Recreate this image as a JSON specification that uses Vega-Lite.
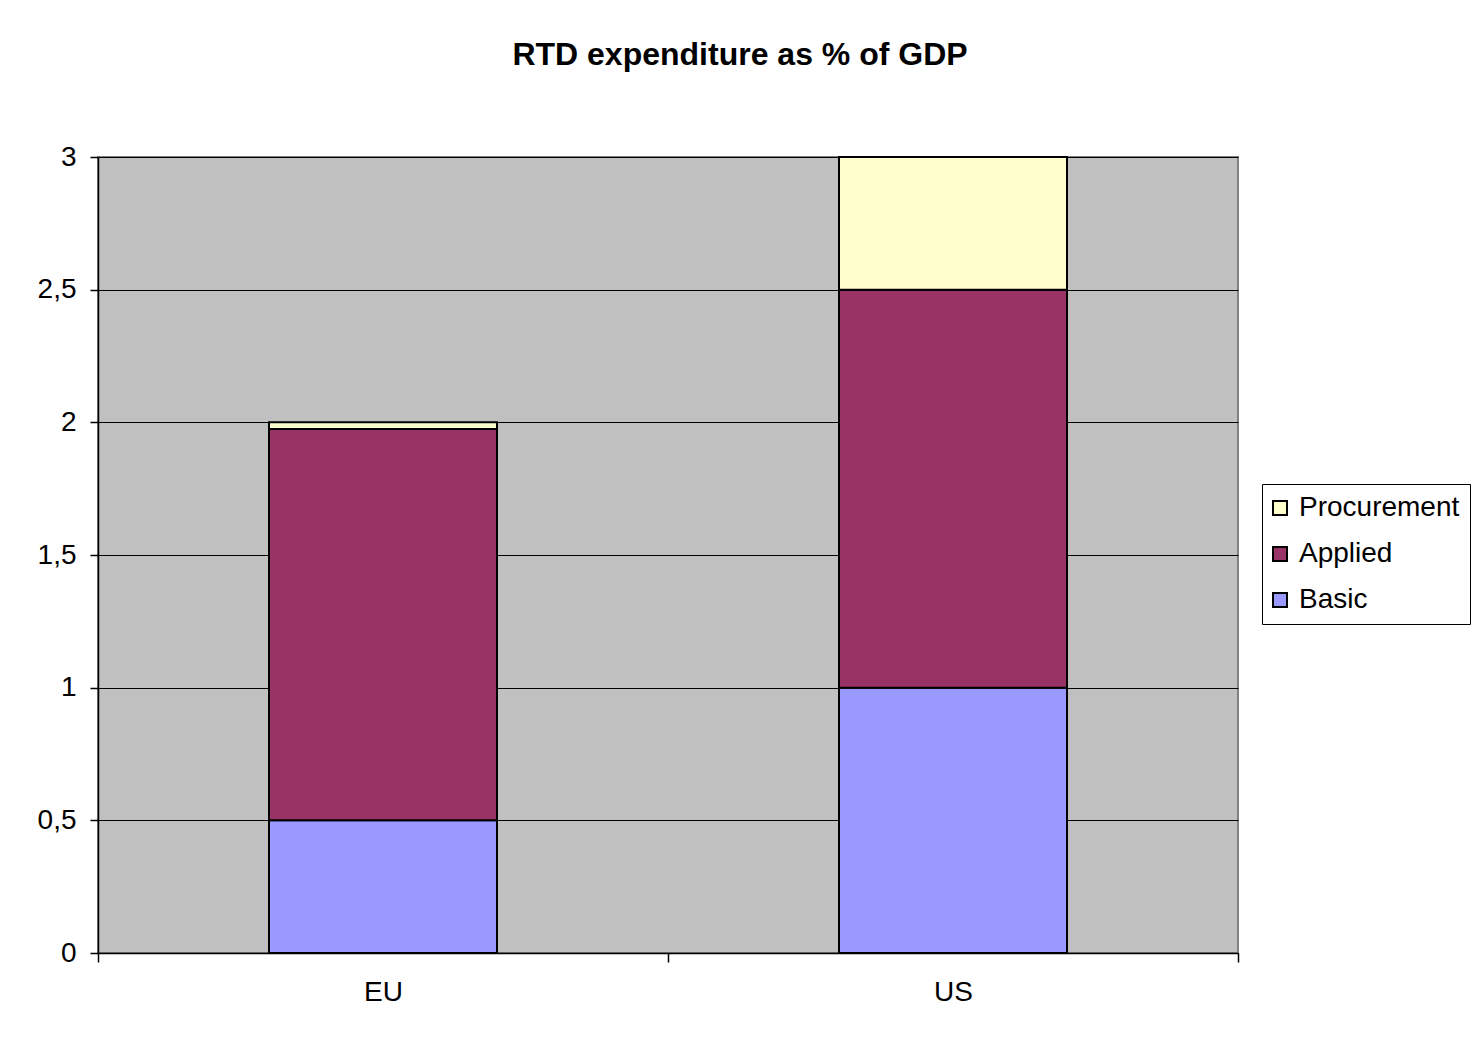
{
  "$schema": "https://vega.github.io/schema/vega-lite/v6.json",
  "width": 1140,
  "height": 796,
  "autosize": {"type": "none"},
  "padding": {"left": 98, "top": 157, "right": 237, "bottom": 90},
  "background": "white",
  "title": {
    "text": "RTD expenditure as % of GDP",
    "font": "Liberation Sans",
    "fontSize": 32,
    "fontWeight": "bold",
    "color": "black",
    "anchor": "middle",
    "dx": 72,
    "offset": 71
  },
  "data": {
    "values": [
      {"region": "EU", "type": "Basic", "value": 0.5, "ord": 1},
      {"region": "EU", "type": "Applied", "value": 1.475, "ord": 2},
      {"region": "EU", "type": "Procurement", "value": 0.025, "ord": 3},
      {"region": "US", "type": "Basic", "value": 1.0, "ord": 1},
      {"region": "US", "type": "Applied", "value": 1.5, "ord": 2},
      {"region": "US", "type": "Procurement", "value": 0.5, "ord": 3}
    ]
  },
  "mark": {"type": "bar", "stroke": "black", "strokeWidth": 2, "width": {"band": 0.4}},
  "encoding": {
    "x": {
      "field": "region",
      "type": "nominal",
      "scale": {"paddingInner": 0, "paddingOuter": 0},
      "axis": {
        "title": null,
        "labelAngle": 0,
        "labelFont": "Liberation Sans",
        "labelFontSize": 28,
        "labelColor": "black",
        "labelPadding": 16,
        "tickBand": "extent",
        "tickSize": 9,
        "tickColor": "black",
        "tickWidth": 1.5,
        "domainColor": "black",
        "domainWidth": 1.5,
        "grid": false
      }
    },
    "y": {
      "field": "value",
      "type": "quantitative",
      "stack": "zero",
      "scale": {"domain": [0, 3]},
      "axis": {
        "title": null,
        "values": [0, 0.5, 1, 1.5, 2, 2.5, 3],
        "labelExpr": "replace(format(datum.value, '~g'), '.', ',')",
        "labelFont": "Liberation Sans",
        "labelFontSize": 28,
        "labelColor": "black",
        "labelPadding": 14,
        "tickSize": 8,
        "tickColor": "black",
        "tickWidth": 1.5,
        "domainColor": "black",
        "domainWidth": 1.5,
        "grid": true,
        "gridColor": "black",
        "gridWidth": 1,
        "gridOpacity": 1
      }
    },
    "color": {
      "field": "type",
      "type": "nominal",
      "scale": {
        "domain": ["Procurement", "Applied", "Basic"],
        "range": ["#FFFFCC", "#993366", "#9999FF"]
      },
      "legend": {
        "title": null,
        "orient": "none",
        "legendX": 1164,
        "legendY": 327,
        "symbolType": "square",
        "symbolSize": 196,
        "symbolStrokeColor": "black",
        "symbolStrokeWidth": 2,
        "symbolOffset": -6,
        "labelFont": "Liberation Sans",
        "labelFontSize": 28,
        "labelColor": "black",
        "labelOffset": 5,
        "labelLimit": 400,
        "rowPadding": 18,
        "padding": 10,
        "strokeColor": "black",
        "fillColor": "white"
      }
    },
    "order": {"field": "ord", "type": "quantitative"}
  },
  "config": {
    "view": {"fill": "#C0C0C0", "stroke": "#808080", "strokeWidth": 2}
  }
}
